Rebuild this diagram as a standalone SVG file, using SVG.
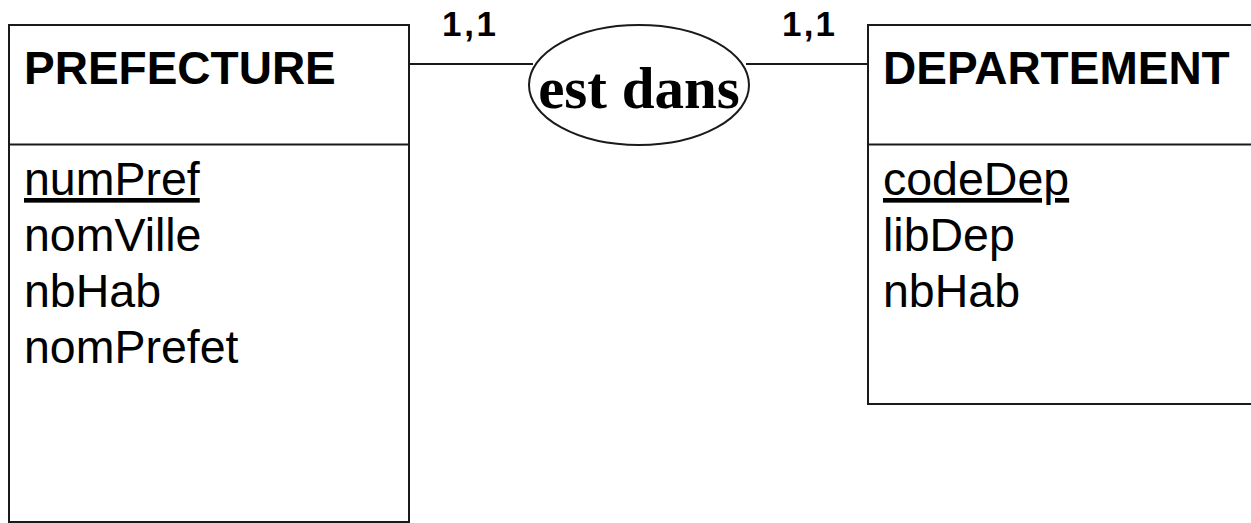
<svg xmlns="http://www.w3.org/2000/svg" width="1251" height="523" viewBox="0 0 1251 523">
<style>
.box{fill:#fff;stroke:#1a1a1a;stroke-width:2}
.ln{stroke:#1a1a1a;stroke-width:2;fill:none}
.title{font-family:"Liberation Sans",Arial,sans-serif;font-weight:bold;font-size:46px;fill:#000}
.attr{font-family:"Liberation Sans",Arial,sans-serif;font-size:46.5px;fill:#000}
.card{font-family:"Liberation Sans",Arial,sans-serif;font-weight:bold;font-size:35px;fill:#000}
.rel{font-family:"Liberation Serif","Times New Roman",serif;font-weight:bold;font-size:59px;fill:#000}
</style>
<g id="connectors">
<line class="ln" x1="409" y1="64" x2="533" y2="64"/>
<line class="ln" x1="746" y1="64" x2="868" y2="64"/>
<text class="card" x="442" y="36" textLength="54">1,1</text>
<text class="card" x="782" y="36" textLength="53">1,1</text>
</g>
<g id="prefecture">
<rect class="box" x="9" y="25" width="400" height="497"/>
<line class="ln" x1="9" y1="144.5" x2="409" y2="144.5"/>
<text class="title" x="24" y="84">PREFECTURE</text>
<text class="attr" x="24" y="195" text-decoration="underline">numPref</text>
<text class="attr" x="24" y="251">nomVille</text>
<text class="attr" x="24" y="307">nbHab</text>
<text class="attr" x="24" y="363">nomPrefet</text>
</g>
<g id="est_dans">
<ellipse class="box" cx="639" cy="85" rx="110" ry="60"/>
<text class="rel" x="639" y="108" text-anchor="middle">est dans</text>
</g>
<g id="departement">
<rect class="box" x="868" y="25" width="400" height="379"/>
<line class="ln" x1="868" y1="144.5" x2="1260" y2="144.5"/>
<text class="title" x="883" y="84">DEPARTEMENT</text>
<text class="attr" x="883" y="195" text-decoration="underline">codeDep</text>
<text class="attr" x="883" y="251">libDep</text>
<text class="attr" x="883" y="307">nbHab</text>
</g>
</svg>
